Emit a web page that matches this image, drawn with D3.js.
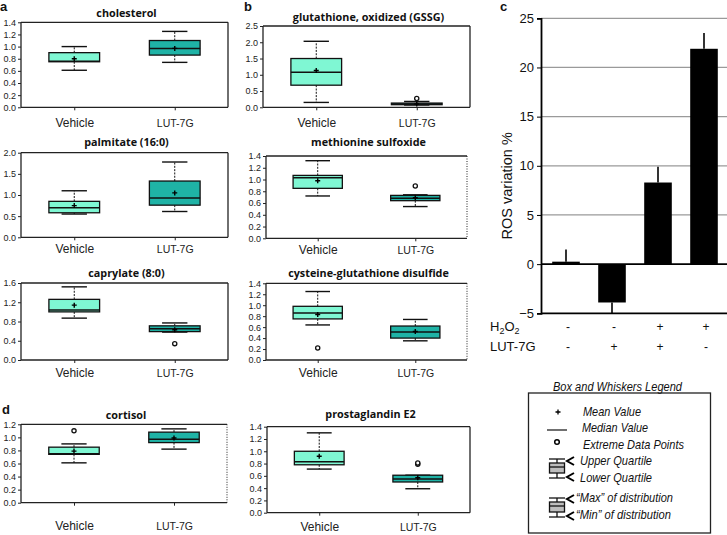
<!DOCTYPE html>
<html><head><meta charset="utf-8">
<script src="https://cdn.jsdelivr.net/npm/d3@7"></script>
<style>body{margin:0;background:#fff} svg{display:block}</style>
</head><body>
<svg id="c" width="727" height="535"></svg>
<script>
// ---------- DATA ----------
const groups = ["Vehicle", "LUT-7G"];
// each: [Vehicle, LUT-7G] stats
const cholesterol = [
  {min:0.61, q1:0.75, med:0.76, q3:0.90, max:1.00, mean:0.80, out:[]},
  {min:0.74, q1:0.86, med:0.97, q3:1.10, max:1.25, mean:0.97, out:[]}];
const palmitate = [
  {min:0.55, q1:0.58, med:0.70, q3:0.85, max:1.10, mean:0.75, out:[]},
  {min:0.61, q1:0.76, med:0.93, q3:1.33, max:1.78, mean:1.05, out:[]}];
const caprylate = [
  {min:0.87, q1:1.00, med:1.04, q3:1.26, max:1.52, mean:1.14, out:[]},
  {min:0.58, q1:0.59, med:0.65, q3:0.71, max:0.77, mean:0.63, out:[0.34]}];
const gssg = [
  {min:0.15, q1:0.68, med:1.08, q3:1.50, max:2.03, mean:1.13, out:[]},
  {min:0.07, q1:0.08, med:0.10, q3:0.13, max:0.18, mean:0.10, out:[0.27]}];
const methionine = [
  {min:0.72, q1:0.85, med:1.03, q3:1.07, max:1.32, mean:0.98, out:[]},
  {min:0.54, q1:0.64, med:0.68, q3:0.73, max:0.74, mean:0.69, out:[0.89]}];
const cysteine = [
  {min:0.64, q1:0.75, med:0.86, q3:0.98, max:1.25, mean:0.83, out:[0.22]},
  {min:0.35, q1:0.40, med:0.51, q3:0.62, max:0.74, mean:0.52, out:[]}];
const cortisol = [
  {min:0.61, q1:0.74, med:0.75, q3:0.85, max:0.90, mean:0.79, out:[1.10]},
  {min:0.82, q1:0.92, med:0.97, q3:1.08, max:1.13, mean:0.99, out:[]}];
const prostaglandin = [
  {min:0.71, q1:0.78, med:0.83, q3:1.00, max:1.30, mean:0.92, out:[]},
  {min:0.39, q1:0.50, med:0.55, q3:0.61, max:0.61, mean:0.57, out:[0.79, 0.81]}];

const ticks14 = [0, 0.2, 0.4, 0.6, 0.8, 1.0, 1.2, 1.4];
const ticks20 = [0, 0.5, 1.0, 1.5, 2.0];
const ticks16 = [0, 0.4, 0.8, 1.2, 1.6];
const ticks25 = [0, 0.5, 1.0, 1.5, 2.0, 2.5];
const ticks12 = [0, 0.2, 0.4, 0.6, 0.8, 1.0, 1.2];

// panel c
const conditions = ["c1", "c2", "c3", "c4"];
const h2o2 = ["-", "-", "+", "+"];
const lut7g = ["-", "+", "+", "-"];
const ros = [0.25, -3.9, 8.3, 21.9];
const rosErr = [1.25, 1.1, 1.6, 1.6];
const rosTicks = [-5, 0, 5, 10, 15, 20, 25];

// legend texts
const legendItems = ["Mean Value", "Median Value", "Extreme Data Points", "Upper Quartile",
  "Lower Quartile", "\u201cMax\u201d of distribution", "\u201cMin\u201d of distribution"];

// ---------- DRAW ----------
const svg = d3.select("#c");
const vehFill = "#7ff7d3", lutFill = "#1fb3a6";
const sans = "Liberation Sans, Arial, sans-serif";

function boxPanel(title, data, ticks, L) {
  const g = svg.append("g");
  const y = d3.scaleLinear().domain([0, d3.max(ticks)]).range([L.bottom, L.top]);
  const x = d3.scalePoint().domain(groups).range([L.left, L.right]).padding(0.53);
  const bw = (L.right - L.left) * 0.245;

  const fr = g.append("g").attr("stroke", "#222").attr("stroke-width", 1.3).attr("fill", "none");
  fr.append("line").attr("x1", L.left).attr("x2", L.right).attr("y1", L.top).attr("y2", L.top);
  fr.append("line").attr("x1", L.left).attr("x2", L.right).attr("y1", L.bottom).attr("y2", L.bottom);
  fr.append("line").attr("x1", L.left).attr("x2", L.left).attr("y1", L.top).attr("y2", L.bottom);
  fr.append("line").attr("x1", L.right).attr("x2", L.right).attr("y1", L.top).attr("y2", L.bottom)
    .attr("stroke-dasharray", L.dotted ? "1,1.5" : null).attr("stroke-width", L.dotted ? 1 : 1.3);

  const ya = g.append("g").attr("transform", `translate(${L.left},0)`)
    .call(d3.axisLeft(y).tickValues(ticks).tickFormat(d3.format(".1f")).tickSize(3).tickPadding(2));
  ya.select(".domain").remove();
  ya.selectAll("line").attr("stroke", "#222");
  ya.selectAll("text").attr("font-family", sans).attr("font-size", 9).attr("fill", "#222");

  const xa = g.append("g").attr("transform", `translate(0,${L.bottom})`)
    .call(d3.axisBottom(x).tickSize(3).tickPadding(0));
  xa.select(".domain").remove();
  xa.selectAll("line").attr("stroke", "#222");
  xa.selectAll("text").attr("dy", null).attr("y", L.labelY - L.bottom)
    .attr("font-family", sans)
    .attr("font-size", d => d === "Vehicle" ? 12 : 10.5).attr("fill", "#222");

  g.append("text").attr("x", (L.left + L.right) / 2 + 2).attr("y", L.titleY)
    .attr("text-anchor", "middle").attr("font-family", "Open Sans, sans-serif")
    .attr("font-weight", "bold").attr("font-size", 10.8).attr("fill", "#111").text(title);

  const b = g.selectAll(".bx").data(data).join("g");
  b.each(function (d, i) {
    const s = d3.select(this), cx = x(groups[i]);
    s.append("line").attr("x1", cx).attr("x2", cx).attr("y1", y(d.q3)).attr("y2", y(d.max))
      .attr("stroke", "#111").attr("stroke-width", 1).attr("stroke-dasharray", "2,1.3");
    s.append("line").attr("x1", cx).attr("x2", cx).attr("y1", y(d.q1)).attr("y2", y(d.min))
      .attr("stroke", "#111").attr("stroke-width", 1).attr("stroke-dasharray", "2,1.3");
    [d.max, d.min].forEach(v => s.append("line").attr("x1", cx - bw / 4).attr("x2", cx + bw / 4)
      .attr("y1", y(v)).attr("y2", y(v)).attr("stroke", "#111").attr("stroke-width", 1.4));
    s.append("rect").attr("x", cx - bw / 2).attr("width", bw).attr("y", y(d.q3))
      .attr("height", Math.max(1, y(d.q1) - y(d.q3)))
      .attr("fill", i === 0 ? vehFill : lutFill).attr("stroke", "#111").attr("stroke-width", 1.3);
    s.append("line").attr("x1", cx - bw / 2).attr("x2", cx + bw / 2).attr("y1", y(d.med)).attr("y2", y(d.med))
      .attr("stroke", "#111").attr("stroke-width", 1.5);
    s.append("path").attr("d", `M${cx - 2.5},${y(d.mean)}h5M${cx},${y(d.mean) - 2.5}v5`)
      .attr("stroke", "#000").attr("stroke-width", 1.4);
    d.out.forEach(v => s.append("circle").attr("cx", cx).attr("cy", y(v)).attr("r", 2.1)
      .attr("fill", "#fff").attr("stroke", "#111").attr("stroke-width", 1.3));
  });
}

boxPanel("cholesterol", cholesterol, ticks14, {left:21, right:228, top:22.3, bottom:107.3, titleY:17, labelY:127});
boxPanel("palmitate (16:0)", palmitate, ticks20, {left:21, right:228, top:152.7, bottom:237.3, titleY:146, labelY:253});
boxPanel("caprylate (8:0)", caprylate, ticks16, {left:21, right:228, top:283, bottom:360, titleY:277, labelY:377});
boxPanel("glutathione, oxidized (GSSG)", gssg, ticks25, {left:263, right:470, top:26, bottom:107.3, titleY:21, labelY:127});
boxPanel("methionine sulfoxide", methionine, ticks14, {left:266, right:467, top:156, bottom:238.3, titleY:146, labelY:254, dotted:true});
boxPanel("cysteine-glutathione disulfide", cysteine, ticks14, {left:266, right:467, top:283.3, bottom:360, titleY:277, labelY:377, dotted:true});
boxPanel("cortisol", cortisol, ticks12, {left:21, right:227, top:424.3, bottom:502.7, titleY:419, labelY:530, dotted:true});
boxPanel("prostaglandin E2", prostaglandin, ticks14, {left:267, right:470, top:426.7, bottom:512.7, titleY:418, labelY:531});

[["a", 0, 11], ["b", 244, 11], ["c", 500, 11], ["d", 2, 414]].forEach(([t, x, y]) =>
  svg.append("text").attr("x", x).attr("y", y).attr("font-family", sans)
    .attr("font-weight", "bold").attr("font-size", 13).attr("fill", "#111").text(t));

// ---------- panel c ----------
{
  const axX = 541, right = 727;
  const y = d3.scaleLinear().domain([d3.min(rosTicks), d3.max(rosTicks)]).range([313.3, 18.3]);
  const x = d3.scaleBand().domain(conditions).range([543, 727]).paddingInner(0.4).paddingOuter(0.2);
  const g = svg.append("g");
  g.selectAll(".gl").data(rosTicks.filter(t => t > 0)).join("line")
    .attr("x1", axX).attr("x2", right).attr("y1", d => y(d)).attr("y2", d => y(d))
    .attr("stroke", "#9a9a9a").attr("stroke-width", 1.2);
  g.selectAll(".bar").data(ros).join("rect")
    .attr("x", (d, i) => x(conditions[i])).attr("width", x.bandwidth())
    .attr("y", d => y(Math.max(0, d))).attr("height", d => Math.abs(y(d) - y(0)))
    .attr("fill", "#000");
  g.selectAll(".err").data(ros).join("line")
    .attr("x1", (d, i) => x(conditions[i]) + x.bandwidth() / 2).attr("x2", (d, i) => x(conditions[i]) + x.bandwidth() / 2)
    .attr("y1", d => y(d)).attr("y2", (d, i) => y(d + Math.sign(d) * rosErr[i]))
    .attr("stroke", "#000").attr("stroke-width", 1.6);
  g.append("line").attr("x1", axX).attr("x2", right).attr("y1", y(0)).attr("y2", y(0)).attr("stroke", "#000").attr("stroke-width", 1.6);
  g.append("line").attr("x1", axX).attr("x2", right).attr("y1", y(-5)).attr("y2", y(-5)).attr("stroke", "#000").attr("stroke-width", 1.8);
  const ya = g.append("g").attr("transform", `translate(${axX},0)`)
    .call(d3.axisLeft(y).tickValues(rosTicks).tickSize(4).tickPadding(3));
  ya.select(".domain").attr("stroke", "#000").attr("stroke-width", 1.8);
  ya.selectAll("line").attr("stroke", "#000");
  ya.selectAll("text").attr("font-family", sans).attr("font-size", 13).attr("fill", "#111");
  g.append("text").attr("transform", `translate(512,${y(10) + 20}) rotate(-90)`).attr("text-anchor", "middle")
    .attr("font-family", sans).attr("font-size", 14.5).attr("fill", "#111")
    .text("ROS variation %");
  const ct = (d, i) => x(conditions[i]) + x.bandwidth() / 2 + 2;
  g.selectAll(".h").data(h2o2).join("text").attr("x", ct).attr("y", 331).attr("text-anchor", "middle")
    .attr("font-family", sans).attr("font-size", 12).attr("fill", "#111").text(d => d);
  g.selectAll(".l").data(lut7g).join("text").attr("x", ct).attr("y", 351).attr("text-anchor", "middle")
    .attr("font-family", sans).attr("font-size", 12).attr("fill", "#111").text(d => d);
  const h = g.append("text").attr("x", 490).attr("y", 331).attr("font-family", sans)
    .attr("font-size", 13).attr("fill", "#111");
  h.append("tspan").text("H");
  h.append("tspan").attr("font-size", 9).attr("dy", 3).text("2");
  h.append("tspan").attr("dy", -3).text("O");
  h.append("tspan").attr("font-size", 9).attr("dy", 3).text("2");
  g.append("text").attr("x", 490).attr("y", 351).attr("font-family", sans)
    .attr("font-size", 13).attr("fill", "#111").text("LUT-7G");
}

// ---------- legend ----------
{
  const g = svg.append("g");
  g.append("text").attr("x", 553).attr("y", 391).attr("font-family", sans)
    .attr("font-style", "italic").attr("font-size", 12.5).attr("fill", "#111")
    .attr("textLength", 129).attr("lengthAdjust", "spacingAndGlyphs").text("Box and Whiskers Legend");
  g.append("rect").attr("x", 528.5).attr("y", 393).attr("width", 182).attr("height", 140)
    .attr("fill", "none").attr("stroke", "#222").attr("stroke-width", 1.3);
  const pos = [[583, 416, 58], [582, 432, 66], [583, 449, 101], [580, 465, 72], [580, 482, 72],
    [576, 502, 97], [576, 519, 95]];
  g.selectAll(".it").data(legendItems).join("text").attr("x", (d, i) => pos[i][0]).attr("y", (d, i) => pos[i][1])
    .attr("font-family", sans).attr("font-style", "italic").attr("font-size", 13).attr("fill", "#111")
    .attr("textLength", (d, i) => pos[i][2]).attr("lengthAdjust", "spacingAndGlyphs").text(d => d);
  g.append("path").attr("d", "M555.5,412h5M558,409.5v5").attr("stroke", "#000").attr("stroke-width", 1.3);
  g.append("line").attr("x1", 547).attr("x2", 567).attr("y1", 430).attr("y2", 430).attr("stroke", "#222").attr("stroke-width", 1.3);
  g.append("circle").attr("cx", 557).attr("cy", 442).attr("r", 2.3).attr("fill", "#fff").attr("stroke", "#000").attr("stroke-width", 1.5);
  function icon(y0) {
    const s = g.append("g").attr("stroke", "#111").attr("stroke-width", 1.3);
    s.append("line").attr("x1", 549).attr("x2", 565).attr("y1", y0).attr("y2", y0);
    s.append("line").attr("x1", 557).attr("x2", 557).attr("y1", y0).attr("y2", y0 + 19);
    s.append("rect").attr("x", 549.5).attr("y", y0 + 4).attr("width", 15).attr("height", 10).attr("fill", "#bdbdbd");
    s.append("line").attr("x1", 549.5).attr("x2", 564.5).attr("y1", y0 + 8).attr("y2", y0 + 8);
    s.append("line").attr("x1", 549).attr("x2", 565).attr("y1", y0 + 19).attr("y2", y0 + 19);
  }
  icon(459); icon(498);
  const chev = (x0, y0) => g.append("path").attr("d", `M${x0 + 7},${y0 - 4}L${x0},${y0}L${x0 + 7},${y0 + 4}`)
    .attr("fill", "none").attr("stroke", "#000").attr("stroke-width", 2);
  chev(567, 461); chev(567, 477); chev(567, 499); chev(567, 516);
}
</script>
</body></html>
